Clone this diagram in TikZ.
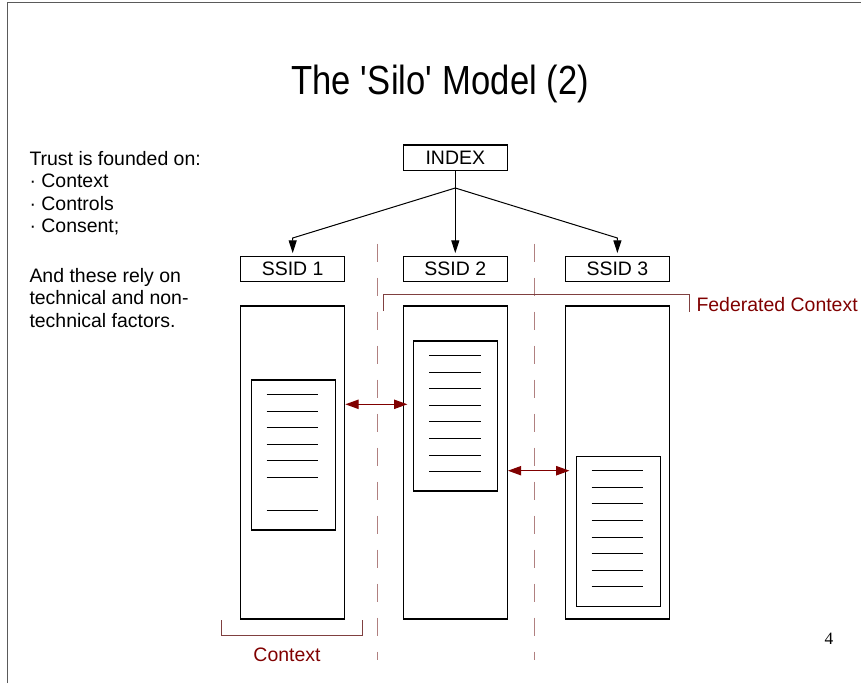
\documentclass[tikz,border=0pt]{standalone}
\usepackage{fontspec}
\setmainfont{Liberation Sans}
\newfontfamily\titlefont[FakeStretch=0.85]{Liberation Sans}
\newfontfamily\pagefont{Liberation Serif}
\usetikzlibrary{arrows.meta}

\definecolor{ctxred}{RGB}{128,0,0}
\definecolor{ctxline}{RGB}{128,64,64}
\definecolor{cutline}{RGB}{176,128,128}
\definecolor{framegray}{RGB}{90,90,90}

\tikzset{every picture/.style={line width=0.75pt}}
\tikzset{
	box/.style={draw, line width=0.9pt, inner sep=0pt, minimum width=78pt, minimum height=19pt, font=\fontsize{14.6}{17}\selectfont},
	silo/.style={draw, line width=0.9pt, inner sep=0pt, minimum width=78pt, minimum height=234.75pt},
	doc/.style={draw, line width=0.9pt, inner sep=0pt, minimum width=63pt, minimum height=112.5pt},
	feed/.style={-{Triangle[length=9.5pt,width=6pt]}, shorten >=2pt},
	link/.style={{Triangle[length=10pt,width=7pt]}-{Triangle[length=10pt,width=7pt]}, color=ctxred, line width=0.9pt, shorten >=-3.5pt},
	cut/.style={color=cutline, dash pattern=on 13.5pt off 12pt},
	brace/.style={color=ctxline},
	label/.style={color=ctxred, inner sep=0pt, font=\fontsize{14.6}{17}\selectfont}
}

\begin{document}
\begin{tikzpicture}[x=0.75pt,y=0.75pt,yscale=-1,xscale=1]
	\useasboundingbox (0,0) rectangle (861,683);

	%Shape: Frame
	\draw [framegray, line width=1.2pt] (7.5,683) -- (7.5,2.5) -- (861,2.5);

	% Text Node
	\node [font=\titlefont\fontsize{30.5}{36}\selectfont] (title) at (440,84) {The \textquotesingle Silo\textquotesingle\ Model (2)};
	% Text Node
	\node [anchor=north west, align=left, inner sep=0pt, font=\fontsize{14.6}{16.9}\selectfont] (trust) at (29,150.5) {Trust is founded on:\\· Context\\· Controls\\· Consent;};
	% Text Node
	\node [anchor=north west, align=left, inner sep=0pt, font=\fontsize{14.6}{16.9}\selectfont] (rely) at (29,267.5) {And these rely on\\technical and non-\\technical factors.};

	%Shape: Index and SSID boxes
	\node [box] (index) at (455.3,157.7) {INDEX};
	\node [box] (ssid1) at (292.7,269) {SSID 1};
	\node [box] (ssid2) at (455.3,269) {SSID 2};
	\node [box] (ssid3) at (617.4,269) {SSID 3};

	%Shape: Silos
	\node [silo] (silo1) at (292.7,462.5) {};
	\node [silo] (silo2) at (455.3,462.5) {};
	\node [silo] (silo3) at (617.4,462.5) {};

	%Shape: Documents
	\node [doc] (doc1) at (293.2,455) {};
	\node [doc] (doc2) at (455.8,416) {};
	\node [doc] (doc3) at (618.3,531.2) {};
	\foreach \d/\rows in {doc1/{0,1,2,3,4,5,7}, doc2/{0,...,7}, doc3/{0,...,7}}
		\foreach \k in \rows
			\draw (\d.north west) ++(16,15+16.6*\k) -- ++(51.5,0);

	%Index feeds
	\coordinate (fork) at (455.3,188);
	\coordinate (bendL) at (292.7,238);
	\coordinate (bendR) at (617.4,238);
	\draw [feed] (index) -- (ssid2);
	\draw [feed] (fork) -- (bendL) -- (ssid1);
	\draw [feed] (fork) -- (bendR) -- (ssid3);

	%Links between silos
	\coordinate (linkA) at (0,404.3);
	\coordinate (linkB) at (0,470.7);
	\draw [link] (silo1.east |- linkA) -- (silo2.west |- linkA);
	\draw [link] (silo2.east |- linkB) -- (silo3.west |- linkB);

	%Dashed cuts
	\draw [cut] (377.7,243.5) -- (377.7,660);
	\draw [cut] (534,243.5) -- (534,660);

	%Brackets
	\draw [brace] (383.3,311) -- (383.3,294.5) -- (689,294.5) -- (689,312);
	\draw [brace] (221,620) -- (221,635) -- (362,635) -- (362,620);

	% Text Node
	\node [label, anchor=west] (fedlabel) at (696,305) {Federated Context};
	% Text Node
	\node [label] (ctxlabel) at (287,655) {Context};
	% Text Node
	\node [font=\pagefont\fontsize{13}{15}\selectfont] (pagenum) at (829,639) {4};

\end{tikzpicture}
\end{document}
